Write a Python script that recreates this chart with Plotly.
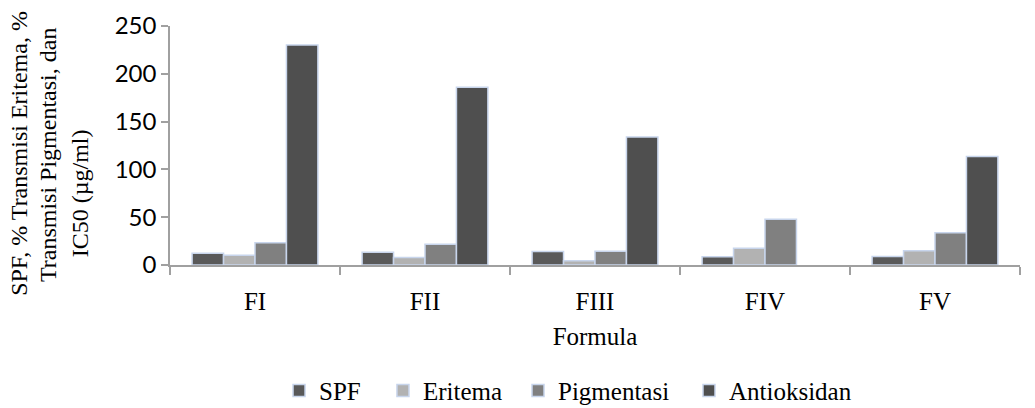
import plotly.graph_objects as go

# Formulas on the x axis
formulas = ["FI", "FII", "FIII", "FIV", "FV"]

# Measured values per formula
spf = [12.3, 13.4, 14.1, 8.6, 8.9]
eritema = [10.3, 7.8, 4.4, 17.6, 14.8]
pigmentasi = [23.2, 21.8, 14.5, 47.9, 33.7]
antioksidan = [230, 186, 134, None, 113.5]

y_ticks = [0, 50, 100, 150, 200, 250]

# Y-axis title, one entry per wrapped line
y_title_lines = ["SPF, % Transmisi Eritema, %", "Transmisi Pigmentasi, dan", "IC50 (µg/ml)"]

series = [
    ("SPF", spf, "#595959", "legend", 0.2696),
    ("Eritema", eritema, "#b2b2b2", "legend2", 0.3700),
    ("Pigmentasi", pigmentasi, "#808080", "legend3", 0.5005),
    ("Antioksidan", antioksidan, "#4f4f4f", "legend4", 0.6657),
]

serif = "Liberation Serif"
sans = "Lato"
black = "#000000"
axis_grey = "#a0a0a0"

fig = go.Figure()
for name, vals, color, leg, _ in series:
    fig.add_trace(go.Bar(
        x=formulas, y=vals, name=name, legend=leg,
        marker=dict(color=color, line=dict(color="#c8d5ec", width=1.5)),
    ))

# One single-entry legend per series so each entry sits at its own spot
legends = {}
for name, _, _, leg, lx in series:
    legends[leg] = dict(
        orientation="h", xref="container", yref="container",
        x=lx, xanchor="left", y=0.042, yanchor="middle",
        font=dict(family=serif, size=25, color=black),
        bgcolor="rgba(0,0,0,0)", borderwidth=0, visible=True,
    )

# Rotated title lines placed left of the tick labels
title_pos = [(-151, 0.465), (-122, 0.46), (-90, 0.30)]
title_annotations = [
    dict(
        text=line, font=dict(family=serif, size=24, color=black),
        textangle=-90, showarrow=False,
        xref="paper", x=0, xanchor="center", xshift=dx,
        yref="paper", y=py, yanchor="middle",
    )
    for line, (dx, py) in zip(y_title_lines, title_pos)
]

fig.update_layout(
    width=1035, height=408,
    margin=dict(l=170, r=15, t=26, b=143, autoexpand=False),
    paper_bgcolor="white", plot_bgcolor="white",
    barmode="group", bargap=0.26, bargroupgap=0,
    showlegend=True,
    **legends,
    xaxis=dict(
        showline=True, linecolor=axis_grey, linewidth=1.5,
        ticks="outside", tickson="boundaries", ticklen=8,
        tickcolor=axis_grey, tickwidth=1.5,
        ticklabelstandoff=13,
        tickfont=dict(family=serif, size=25, color=black),
        title=dict(text="Formula", font=dict(family=serif, size=25, color=black),
                   standoff=14),
        showgrid=False,
    ),
    yaxis=dict(
        range=[0, 250], tickvals=y_ticks,
        showline=True, linecolor=axis_grey, linewidth=1.5,
        ticks="outside", ticklen=7, tickcolor=axis_grey, tickwidth=1.5,
        tickfont=dict(family=sans, size=24, color=black),
        showgrid=False, zeroline=False,
    ),
    annotations=title_annotations,
)

fig.write_html("out.html")
